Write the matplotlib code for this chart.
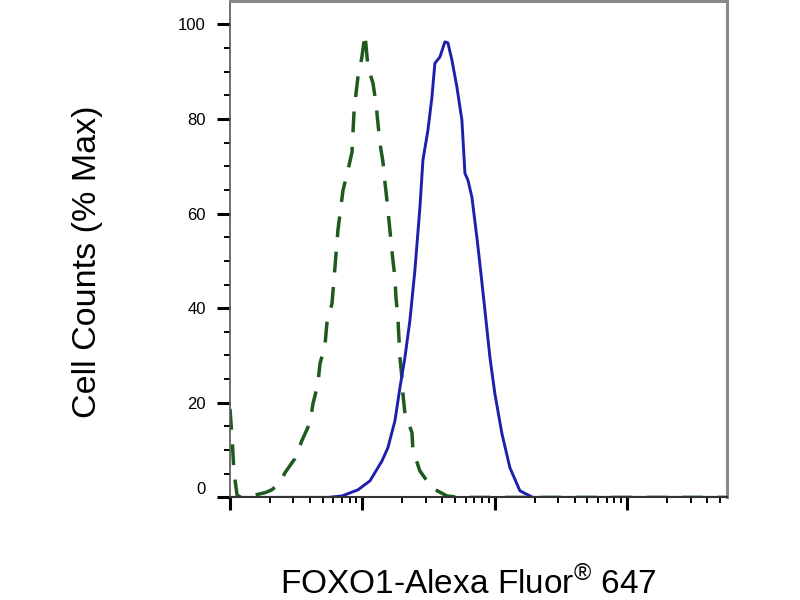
import numpy as np
import matplotlib.pyplot as plt
from matplotlib.ticker import FixedLocator, NullFormatter, MultipleLocator

plt.rcParams['font.family'] = ['Liberation Sans', 'DejaVu Sans']
plt.rcParams['mathtext.fontset'] = 'custom'
plt.rcParams['mathtext.rm'] = 'Liberation Sans'

# isotype control (green dashed), fluorescence intensity vs % max
ctrl_x = [10, 10.4, 10.7, 11.3, 12.1, 14.2, 15.4, 18.4, 20.7, 23.8, 26.0, 30.9,
          34.9, 40.2, 42.3, 46.1, 47.8, 52.1, 53.9, 58.9, 62.0, 65.3, 71.3,
          77.8, 83.4, 86.3, 89.5, 92.5, 99.1, 104.5, 110.0, 120.0, 126.4,
          130.9, 135.5, 142.9, 147.9, 153.1, 158.5, 164.1, 169.9, 175.9,
          179.0, 185.3, 188.5, 191.9, 198.7, 202.2, 209.3, 236.6, 240.6,
          271.6, 334.7, 434.9, 544.5, 56000]
ctrl_y = [18.7, 12.0, 5.6, 0.5, 0, 0, 0.5, 1.0, 1.6, 3.1, 5.2, 8.2,
          12.0, 15.8, 19.8, 24.0, 28.3, 32.1, 36.8, 41.0, 48.6, 56.5, 64.9,
          69.2, 73.0, 81.3, 85.5, 88.9, 93.1, 98.0, 91.0, 87.6, 83.4,
          79.1, 74.9, 70.9, 66.6, 62.8, 58.6, 54.3, 50.1, 46.5,
          42.3, 38.0, 33.8, 29.6, 25.3, 21.9, 17.7, 13.7, 9.9,
          5.6, 2.0, 0.3, 0, 0]

# FOXO1 stained sample (blue solid)
foxo_x = [10, 54.9, 70.0, 92.5, 114.0, 140.4, 155.7, 175.9, 191.9, 209.3,
          228.2, 248.9, 271.6, 286.2, 312.1, 334.7, 352.4, 384.4, 419.4,
          441.8, 473.3, 516.4, 563.4, 594.2, 625.7, 670.3, 731.1, 770.9,
          841.4, 917.2, 1000, 1129.8, 1297.6, 1544.5, 1936, 56000]
foxo_y = [0, 0, 0.3, 1.6, 3.5, 7.7, 10.5, 16.2, 23.2, 29.6,
          37.4, 48.0, 61.3, 71.3, 77.6, 84.6, 91.8, 93.1, 96.3,
          96.1, 92.5, 86.8, 79.8, 68.5, 67.1, 63.5, 55.0, 49.3,
          39.5, 29.6, 21.9, 13.5, 6.3, 1.4, 0, 0]

y_ticks = [0, 20, 40, 60, 80, 100]

fig = plt.figure(figsize=(8, 6), dpi=100)
ax = fig.add_axes([0.2875, 0.171, 0.621, 0.827])

ax.plot(ctrl_x, ctrl_y, color='#1e5a1e', lw=2.5, dashes=(6, 4.2))
ax.plot(foxo_x, foxo_y, color='#1f1fae', lw=2.1)

ax.set_xscale('log')
ax.set_xlim(10, 10 ** 4.751)
ax.set_ylim(0, 104.9)

ax.xaxis.set_major_locator(FixedLocator([10, 100, 1000, 10000]))
ax.xaxis.set_minor_locator(FixedLocator(
    [m * 10 ** d for d in range(1, 5) for m in range(2, 10)]))
ax.xaxis.set_major_formatter(NullFormatter())
ax.xaxis.set_minor_formatter(NullFormatter())

ax.set_yticks(y_ticks)
ax.yaxis.set_minor_locator(MultipleLocator(5))

ax.tick_params(axis='both', which='major', direction='out', length=9.5,
               width=2.2, color='black', labelsize=12, pad=8)
ax.tick_params(axis='both', which='minor', direction='out', length=4.5,
               width=1.4, color='black')

# the zero label sits a little above its tick
ax.get_yticklabels()[0].set_verticalalignment('bottom')

for side in ['top', 'right']:
    ax.spines[side].set_color('#888888')
    ax.spines[side].set_linewidth(2.2)
ax.spines['left'].set_color('#555555')
ax.spines['left'].set_linewidth(1.2)
ax.spines['bottom'].set_color('#333333')
ax.spines['bottom'].set_linewidth(1.5)

fig.text(0.11, 0.563, 'Cell Counts (% Max)', rotation=90, fontsize=24.5,
         ha='center', va='center')
fig.text(0.585, 0.028, 'FOXO1-Alexa Fluor$^{®}$ 647',
         fontsize=24, ha='center', va='center')

fig.savefig('out.png', dpi=100)
